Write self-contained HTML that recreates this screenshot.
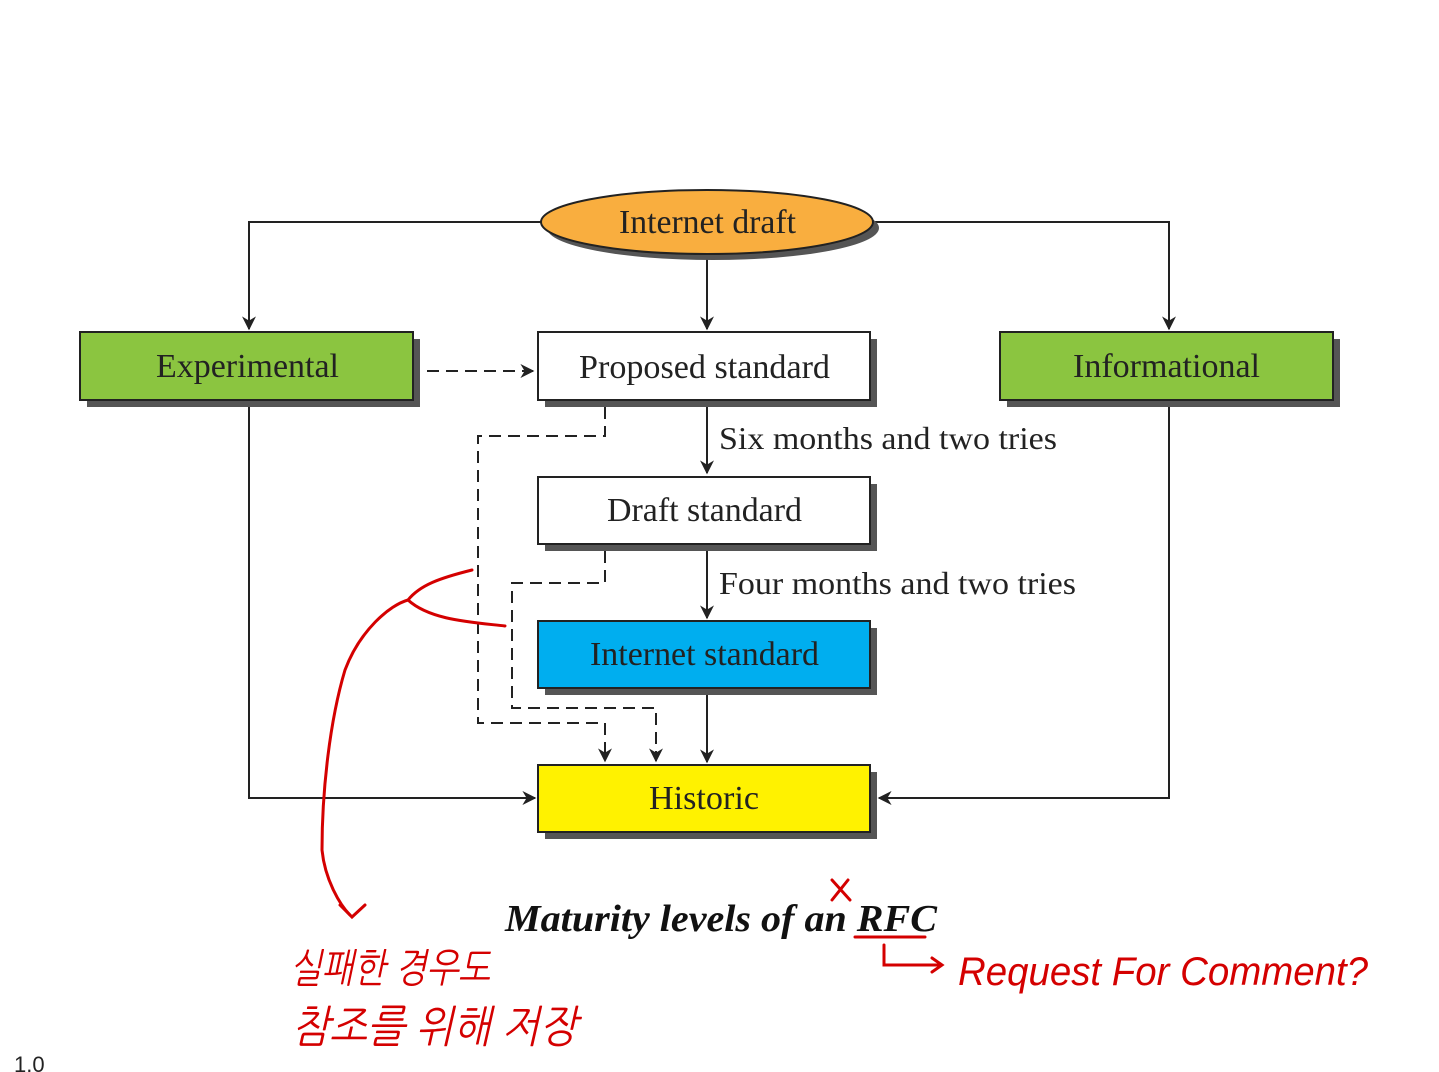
<!DOCTYPE html>
<html><head><meta charset="utf-8"><style>
html,body{margin:0;padding:0;background:#fff;}
svg{display:block;}
</style></head><body>
<svg width="1439" height="1072" viewBox="0 0 1439 1072" xmlns="http://www.w3.org/2000/svg">
<defs>
<marker id="b" viewBox="0 0 10 10" refX="9" refY="5" markerWidth="14" markerHeight="14" orient="auto" markerUnits="userSpaceOnUse"><path d="M0,0 L10,5 L0,10 L3,5 z" fill="#222"/></marker>
</defs>
<g stroke="#222" stroke-width="2" fill="none">
<path d="M541,222 H249 V329" marker-end="url(#b)"/>
<path d="M873,222 H1169 V329" marker-end="url(#b)"/>
<path d="M707,254 V329" marker-end="url(#b)"/>
<path d="M707,400 V473" marker-end="url(#b)"/>
<path d="M707,544 V618" marker-end="url(#b)"/>
<path d="M707,688 V762" marker-end="url(#b)"/>
<path d="M249,400 V798 H535" marker-end="url(#b)"/>
<path d="M1169,400 V798 H879" marker-end="url(#b)"/>
<g stroke-dasharray="12,7">
<path d="M427,371 H533" marker-end="url(#b)"/>
<path d="M605,407 V436 H478 V723 H605 V761" marker-end="url(#b)"/>
<path d="M605,551 V583 H512 V708 H656 V761" marker-end="url(#b)"/>
</g>
</g>
<g fill="#555">
<ellipse cx="713" cy="228" rx="166" ry="32"/>
<rect x="87" y="339" width="333" height="68"/>
<rect x="545" y="339" width="332" height="68"/>
<rect x="1007" y="339" width="333" height="68"/>
<rect x="545" y="484" width="332" height="67"/>
<rect x="545" y="628" width="332" height="67"/>
<rect x="545" y="772" width="332" height="67"/>
</g>
<g stroke="#222" stroke-width="2">
<ellipse cx="707" cy="222" rx="166" ry="32" fill="#f9ae3f"/>
<rect x="80" y="332" width="333" height="68" fill="#8bc540"/>
<rect x="538" y="332" width="332" height="68" fill="#fff"/>
<rect x="1000" y="332" width="333" height="68" fill="#8bc540"/>
<rect x="538" y="477" width="332" height="67" fill="#fff"/>
<rect x="538" y="621" width="332" height="67" fill="#00aeef"/>
<rect x="538" y="765" width="332" height="67" fill="#fff200"/>
</g>
<g font-family="Liberation Serif, serif" font-size="34" fill="#222" lengthAdjust="spacingAndGlyphs">
<text x="619" y="233" textLength="177" lengthAdjust="spacingAndGlyphs">Internet draft</text>
<text x="156" y="377" textLength="183" lengthAdjust="spacingAndGlyphs">Experimental</text>
<text x="579" y="378" textLength="251" lengthAdjust="spacingAndGlyphs">Proposed standard</text>
<text x="1073" y="377" textLength="187" lengthAdjust="spacingAndGlyphs">Informational</text>
<text x="607" y="521" textLength="195" lengthAdjust="spacingAndGlyphs">Draft standard</text>
<text x="590" y="665" textLength="229" lengthAdjust="spacingAndGlyphs">Internet standard</text>
<text x="649" y="809" textLength="110" lengthAdjust="spacingAndGlyphs">Historic</text>
<text x="719" y="449" font-size="32" textLength="338" lengthAdjust="spacingAndGlyphs">Six months and two tries</text>
<text x="719" y="594" font-size="32" textLength="357" lengthAdjust="spacingAndGlyphs">Four months and two tries</text>
<text x="505" y="931" font-size="38" font-weight="bold" font-style="italic" fill="#111" textLength="432" lengthAdjust="spacingAndGlyphs">Maturity levels of an RFC</text>
</g>
<g stroke="#d40000" stroke-width="3" fill="none" stroke-linecap="round">
<path d="M472,570 C440,578 420,585 408,600 C390,605 360,630 345,670 C330,720 322,790 322,850 C325,880 340,905 350,915"/>
<path d="M408,600 C430,620 470,622 505,626"/>
<path d="M340,905 L352,917 L365,905"/>
<path d="M855,937 H925"/>
<path d="M884,945 V965 H940 M932,958 L942,965 L932,972"/>
<path d="M832,880 L850,900 M848,880 L832,900"/>
</g>
<g font-family="Liberation Sans, NanumGothic, sans-serif" fill="#d40000" font-style="italic">
<text x="290" y="982" font-size="40" textLength="200" lengthAdjust="spacingAndGlyphs">실패한 경우도</text>
<text x="292" y="1042" font-size="44" textLength="285" lengthAdjust="spacingAndGlyphs">참조를 위해 저장</text>
<text x="958" y="985" font-size="40" textLength="410" lengthAdjust="spacingAndGlyphs">Request  For  Comment?</text>
</g>
<text x="14" y="1072" font-family="Liberation Sans, sans-serif" font-size="22" fill="#222">1.0</text>
</svg>
</body></html>
